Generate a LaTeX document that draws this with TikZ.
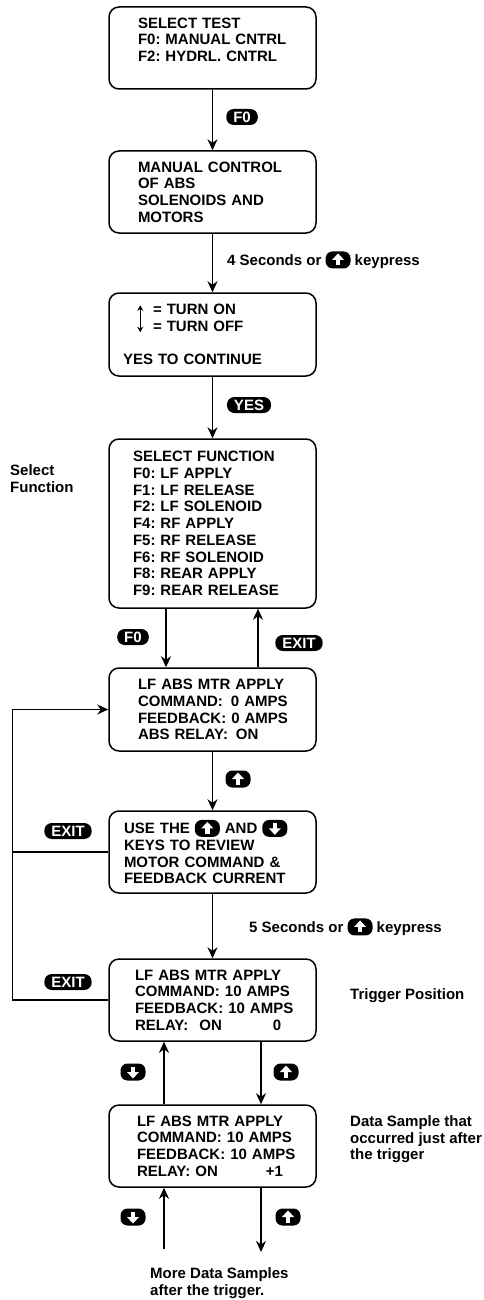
\documentclass[tikz,border=0pt]{standalone}
\usepackage{fontspec}
\setmainfont{Liberation Sans}
\usetikzlibrary{arrows.meta, positioning, calc}
\hfuzz=60pt
\lineskiplimit=-10pt
\frenchspacing

\newcommand{\scrfont}{\bfseries\fontsize{15}{16.7}\selectfont}
% key caps drawn inline
\newcommand{\keyup}{\tikz[baseline=-5.5pt]{\fill[black, rounded corners=7pt] (-12.5pt,-8.5pt) rectangle (12.5pt,8.5pt);
  \fill[white, sharp corners] (-2.2pt,-5.5pt) rectangle (2.2pt,0.5pt);
  \fill[white, sharp corners] (-6pt,0pt) -- (6pt,0pt) -- (0pt,6.5pt) -- cycle;}}
\newcommand{\keydown}{\tikz[baseline=-5.5pt]{\fill[black, rounded corners=7pt] (-12.5pt,-8.5pt) rectangle (12.5pt,8.5pt);
  \fill[white, sharp corners] (-2.2pt,5.5pt) rectangle (2.2pt,-0.5pt);
  \fill[white, sharp corners] (-6pt,0pt) -- (6pt,0pt) -- (0pt,-6.5pt) -- cycle;}}

\begin{document}
\begin{tikzpicture}[x=1pt, y=-1pt,
    screen/.style={draw, line width=1.5pt, rounded corners=10pt, minimum width=207pt,
      minimum height=82pt, align=left, inner sep=0pt, font=\scrfont},
    keycap/.style={fill=black, text=white, rounded corners=7.5pt, inner xsep=7pt,
      inner ysep=0pt, minimum height=16pt, font=\bfseries\fontsize{15}{15}\selectfont},
    note/.style={align=left, inner sep=0pt, font=\scrfont},
    flow/.style={line width=1.5pt, -{Stealth[length=11pt, width=10pt, inset=3.5pt]}},
    wire/.style={line width=1.5pt}]
    \useasboundingbox (0,0) rectangle (484,1300);

    % Screens
    \node[screen, text width=149pt] (seltest) at (212.5,48) {\mbox{SELECT TEST}\\\mbox{F0: MANUAL CNTRL}\\\mbox{F2: HYDRL. CNTRL}\\\mbox{}};
    \node[screen, text width=149pt] (manual) at (212.5,192) {\mbox{MANUAL CONTROL}\\OF ABS\\\mbox{SOLENOIDS AND}\\MOTORS};
    \node[screen, text width=179pt, minimum height=83pt] (onoff) at (212.5,334.5) {\hspace{30pt}= TURN ON\\\hspace{30pt}= TURN OFF\\\mbox{}\\\mbox{YES TO CONTINUE}};
    \node[screen, text width=159pt, minimum height=169pt] (selfunc) at (212.5,523.5) {\mbox{SELECT FUNCTION}\\F0: LF APPLY\\\mbox{F1: LF RELEASE}\\\mbox{F2: LF SOLENOID}\\F4: RF APPLY\\\mbox{F5: RF RELEASE}\\\mbox{F6: RF SOLENOID}\\\mbox{F8: REAR APPLY}\\\mbox{F9: REAR RELEASE}};
    \node[screen, text width=149pt, minimum height=83pt] (mtrapply) at (212.5,709.5) {\mbox{LF ABS MTR APPLY}\\\mbox{COMMAND:\hspace{8pt}0 AMPS}\\\mbox{FEEDBACK: 0 AMPS}\\\mbox{ABS RELAY:\hspace{8pt}ON}};
    \node[screen, text width=177pt] (review) at (212.5,852) {\mbox{USE THE \keyup{} AND \keydown}\\\mbox{KEYS TO REVIEW}\\\mbox{MOTOR COMMAND \&}\\\mbox{FEEDBACK CURRENT}};
    \node[screen, text width=155pt] (trigger) at (212.5,1000) {\mbox{LF ABS MTR APPLY}\\\mbox{COMMAND: 10 AMPS}\\\mbox{FEEDBACK: 10 AMPS}\\\mbox{RELAY:\hspace{11pt}ON\hspace{51pt}0}};
    \node[screen, text width=151pt] (sample) at (212.5,1146) {\mbox{LF ABS MTR APPLY}\\\mbox{COMMAND: 10 AMPS}\\\mbox{FEEDBACK: 10 AMPS}\\\mbox{RELAY: ON\hspace{48pt}+1}};

    % up/down sign in the third screen
    \draw[line width=1.1pt, {Stealth[length=5.5pt, width=6pt]}-{Stealth[length=5.5pt, width=6pt]}]
      ([xshift=32pt, yshift=-13pt]onoff.north west) -- ([xshift=32pt, yshift=-40pt]onoff.north west);

    % Main flow
    \draw[flow] (seltest) -- (manual);
    \draw[flow] (manual) -- (onoff);
    \draw[flow] (onoff) -- (selfunc);
    \draw[flow] ([xshift=-46.5pt]selfunc.south) -- ([xshift=-46.5pt]mtrapply.north);
    \draw[flow] ([xshift=45.5pt]mtrapply.north) -- ([xshift=45.5pt]selfunc.south);
    \draw[flow] (mtrapply) -- (review);
    \draw[flow] (review) -- (trigger);
    \draw[flow] ([xshift=48.5pt]trigger.south) -- ([xshift=48.5pt]sample.north);
    \draw[flow] ([xshift=-48.5pt]sample.north) -- ([xshift=-48.5pt]trigger.south);

    % Exit loop
    \draw[wire] (review.west) -- ++(-96,0);
    \draw[flow] (trigger.west) -- ++(-96,0) |- (mtrapply.west);

    % More samples
    \coordinate (moreup) at (164,1249);
    \coordinate (moredown) at (261,1252);
    \draw[flow] (moreup) -- (moreup |- sample.south);
    \draw[flow] (moredown |- sample.south) -- (moredown);

    % Keys on the connectors
    \node[keycap] (keyF0a) at (242,117) {F0};
    \node[keycap] (keyYES) at (249,405) {YES};
    \node[keycap] (keyF0b) at (133,637) {F0};
    \node[keycap] (keyEXITa) at (299,643) {EXIT};
    \node[inner sep=0pt] (keyUpA) at (238,779) {\keyup};
    \node[keycap] (keyEXITb) at (68,831) {EXIT};
    \node[keycap] (keyEXITc) at (68,982) {EXIT};
    \node[inner sep=0pt] (keyDnA) at (133,1072) {\keydown};
    \node[inner sep=0pt] (keyUpB) at (286,1072) {\keyup};
    \node[inner sep=0pt] (keyDnB) at (133,1217) {\keydown};
    \node[inner sep=0pt] (keyUpC) at (288,1217) {\keyup};

    % Notes
    \node[note, anchor=west] (fourSec) at (227,260) {4 Seconds or \keyup{} keypress};
    \node[note, anchor=west] (fiveSec) at (249,927) {5 Seconds or \keyup{} keypress};
    \node[note, anchor=north west] (selNote) at (10,464.5) {Select\\Function};
    \node[note, anchor=west] (trigNote) at (350,996) {Trigger Position};
    \node[note, anchor=north west] (dataNote) at (350,1115.5) {Data Sample that\\occurred just after\\the trigger};
    \node[note, anchor=north west] (moreNote) at (150,1267.5) {More Data Samples\\after the trigger.};
\end{tikzpicture}
\end{document}
